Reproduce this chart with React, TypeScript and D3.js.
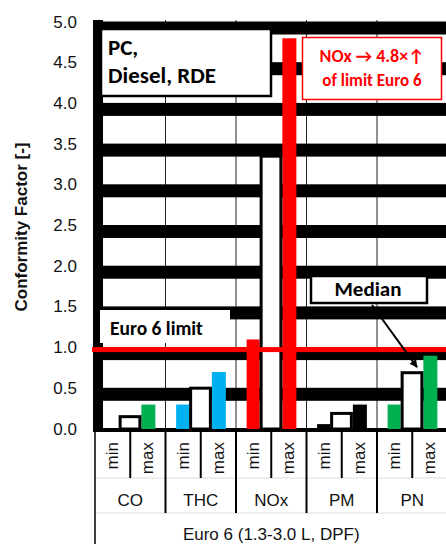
import React from "react";
import * as d3 from "d3";

// ---- data ----
const groups = ["CO", "THC", "NOx", "PM", "PN"];
const subCategories = ["min", "max"];
const minValues = [0, 0.3, 1.1, 0.06, 0.3];
const medianValues = [0.17, 0.52, 3.37, 0.21, 0.71];
const maxValues = [0.3, 0.7, 4.8, 0.3, 0.9];
const groupColors = ["#00B050", "#00B0F0", "#FF0000", "#000000", "#00B050"];
const yTicks = [0, 0.5, 1, 1.5, 2, 2.5, 3, 3.5, 4, 4.5, 5];
const yTickLabels = ["0.0", "0.5", "1.0", "1.5", "2.0", "2.5", "3.0", "3.5", "4.0", "4.5", "5.0"];
const euroLimit = 1.0;
const yTitle = "Conformity Factor [-]";
const bottomLabel = "Euro 6 (1.3-3.0 L, DPF)";
const boxTitleLines = ["PC,", "Diesel, RDE"];
const noxNoteLines = ["NOx \u2192 4.8\u00d7\u2191", "of limit Euro 6"];
const limitLabel = "Euro 6 limit";
const medianLabel = "Median";
const medianArrowGroup = "PN";

const W = 446;
const H = 544;
const plotLeft = 95;
const plotRight = 447.5;
const arial = "'Liberation Sans', Arial, sans-serif";
const calibri = "Calibri, Carlito, Lato, 'Open Sans', sans-serif";

export default function App() {
  const x = d3.scaleBand<string>().domain(groups).range([plotLeft, plotRight]).padding(0);
  const sub = d3.scaleBand<string>().domain(subCategories).range([0, x.bandwidth()]).padding(0);
  const y = d3.scaleLinear().domain([0, 5]).range([429, 22]);
  const sbw = sub.bandwidth();

  const geom = groups.map((g, i) => {
    const x0 = x(g)!;
    const minLeft = x0 + sub("min")! + sbw / 2 - 7;
    const minRight = minLeft + 13;
    const maxRight = x0 + sub("max")! + sbw / 2 + 7.5;
    const maxLeft = maxRight - 14;
    return { g, i, x0, minLeft, minRight, maxLeft, maxRight };
  });

  const gridOffset = 6;
  const gridThickness = 13;

  const arrowGeom = geom.find((d) => d.g === medianArrowGroup)!;
  const arrowIdx = groups.indexOf(medianArrowGroup);
  const arrowEndX = (arrowGeom.minRight + arrowGeom.maxLeft) / 2 + 5;
  const arrowEndY = y(medianValues[arrowIdx]) - 4;

  return (
    <div style={{ position: "fixed", left: 0, top: 0 }}>
      <svg width={W} height={H} style={{ display: "block", background: "#fff" }}>
        <defs>
          <marker id="ah" viewBox="0 0 10 10" refX="9" refY="5" markerWidth="4" markerHeight="4" orient="auto">
            <path d="M0,0 L10,5 L0,10 z" fill="#000" />
          </marker>
        </defs>
        <rect x={0} y={0} width={W} height={H} fill="#fff" />

        {/* thin vertical group separators in plot */}
        {geom.slice(1).map((d) => (
          <line key={"vg" + d.g} x1={d.x0} x2={d.x0} y1={20} y2={430} stroke="#222" strokeWidth={1} />
        ))}

        {/* thick gridline bands */}
        {yTicks.filter((v) => v > 0).map((v) => (
          <rect key={"gb" + v} x={93} y={y(v) + gridOffset - gridThickness / 2} width={plotRight - 93} height={gridThickness} fill="#000" />
        ))}

        {/* y axis thick bar */}
        <rect x={93} y={20} width={10} height={412} fill="#000" />
        {/* x axis line */}
        <rect x={93} y={y(0) - 1} width={plotRight - 93} height={4} fill="#000" />

        {/* bars */}
        {geom.map((d) => (
          <g key={"bars" + d.g}>
            {minValues[d.i] > 0 && (
              <rect x={d.minLeft} y={y(minValues[d.i])} width={d.minRight - d.minLeft} height={y(0) - y(minValues[d.i])} fill={groupColors[d.i]} />
            )}
            <rect x={d.maxLeft} y={y(maxValues[d.i])} width={d.maxRight - d.maxLeft} height={y(0) - y(maxValues[d.i])} fill={groupColors[d.i]} />
            <rect
              x={d.minRight + 1.5}
              y={y(medianValues[d.i]) + 1.5}
              width={d.maxLeft - d.minRight - 3}
              height={y(0) - y(medianValues[d.i]) - 1.5}
              fill="#fff"
              stroke="#000"
              strokeWidth={3}
            />
          </g>
        ))}

        {/* Euro 6 limit line */}
        <rect x={92} y={y(euroLimit) - 0.5} width={plotRight - 92} height={5} fill="#FF0000" />

        {/* y tick labels */}
        {yTicks.map((v, i) => (
          <text key={"yt" + v} x={77} y={y(v)} textAnchor="end" dominantBaseline="central" fontFamily={arial} fontSize={17} fill="#111">
            {yTickLabels[i]}
          </text>
        ))}

        {/* y title */}
        <text transform={`translate(21,227) rotate(-90)`} textAnchor="middle" dominantBaseline="central" fontFamily={arial} fontWeight="bold" fontSize={17} fill="#111">
          {yTitle}
        </text>

        {/* category table */}
        <line x1={plotLeft} x2={plotRight} y1={478} y2={478} stroke="#dcdcdc" strokeWidth={1} />
        <line x1={plotLeft} x2={plotRight} y1={513} y2={513} stroke="#dcdcdc" strokeWidth={1} />
        <line x1={95} x2={95} y1={430} y2={H} stroke="#000" strokeWidth={1.5} />
        {geom.slice(1).map((d) => (
          <line key={"gl" + d.g} x1={d.x0} x2={d.x0} y1={430} y2={513} stroke="#000" strokeWidth={2} />
        ))}
        {geom.map((d) => (
          <line key={"sl" + d.g} x1={d.x0 + sub("max")!} x2={d.x0 + sub("max")!} y1={430} y2={478} stroke="#000" strokeWidth={2} />
        ))}
        {geom.map((d) =>
          subCategories.map((s) => (
            <text
              key={"st" + d.g + s}
              transform={`translate(${d.x0 + sub(s)! + sbw / 2},442) rotate(-90)`}
              textAnchor="end"
              dominantBaseline="central"
              fontFamily={arial}
              fontSize={17}
              fill="#111"
            >
              {s}
            </text>
          ))
        )}
        {geom.map((d) => (
          <text key={"gt" + d.g} x={d.x0 + x.bandwidth() / 2} y={500} textAnchor="middle" dominantBaseline="central" fontFamily={arial} fontSize={17} fill="#111">
            {d.g}
          </text>
        ))}
        <text x={(plotLeft + plotRight) / 2} y={534} textAnchor="middle" dominantBaseline="central" fontFamily={arial} fontSize={17} fill="#111">
          {bottomLabel}
        </text>

        {/* PC box */}
        <rect x={101} y={29} width={170} height={67} fill="#fff" stroke="#000" strokeWidth={2.5} />
        {boxTitleLines.map((t, i) => (
          <text key={"bt" + i} x={108} y={55 + i * 28} fontFamily={calibri} fontWeight="bold" fontSize={23} fill="#000">
            {t}
          </text>
        ))}

        {/* NOx note */}
        <rect x={302.5} y={37.5} width={139} height={62} fill="#fff" stroke="#FF0000" strokeWidth={1.5} />
        {noxNoteLines.map((t, i) => (
          <text key={"nt" + i} x={372} y={62 + i * 24} textAnchor="middle" fontFamily={calibri} fontWeight="bold" fontSize={i === 0 ? 18 : 17} fill="#FF0000">
            {t}
          </text>
        ))}

        {/* Euro 6 limit label */}
        <rect x={100} y={310} width={130} height={33} fill="#fff" />
        <text x={110} y={335} fontFamily={calibri} fontWeight="bold" fontSize={19.5} fill="#000">
          {limitLabel}
        </text>

        {/* Median label */}
        <rect x={311} y={276} width={116} height={27} fill="#fff" stroke="#000" strokeWidth={2.5} />
        <text x={368} y={296} textAnchor="middle" fontFamily={calibri} fontWeight="bold" fontSize={21} fill="#000">
          {medianLabel}
        </text>
        <line x1={372} y1={305} x2={arrowEndX} y2={arrowEndY} stroke="#000" strokeWidth={2} markerEnd="url(#ah)" />
      </svg>
    </div>
  );
}
